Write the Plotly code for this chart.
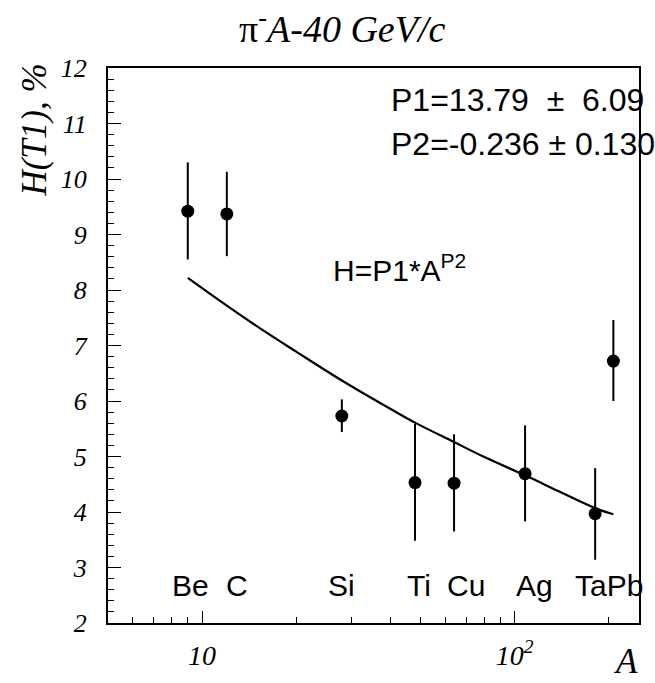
import plotly.graph_objects as go
import numpy as np

# Data
elements = ["Be", "C", "Si", "Ti", "Cu", "Ag", "Ta", "Pb"]
mass_A = [9, 12, 28, 48, 64, 108, 181, 207]
H_vals = [9.42, 9.37, 5.73, 4.53, 4.52, 4.69, 3.97, 6.72]
H_err_up = [0.88, 0.76, 0.30, 1.06, 0.88, 0.87, 0.82, 0.74]
H_err_dn = [0.87, 0.76, 0.29, 1.05, 0.87, 0.86, 0.83, 0.72]

# Fit curve points
fit_A = [9, 12, 16, 20, 28, 40, 48, 64, 80, 108, 140, 181, 207]
fit_H = [8.22, 7.72, 7.24, 6.89, 6.37, 5.86, 5.61, 5.26, 4.99, 4.66, 4.36, 4.07, 3.96]

# Element labels (x in A units)
label_text = ["Be", "C", "Si", "Ti", "Cu", "Ag", "TaPb"]
label_A = [9.2, 12.9, 27.9, 49.6, 69.7, 115.8, 201.0]
label_y = 2.68

title_text = "π<sup>-</sup><i>A-40 GeV/c</i>"
ytitle = "H(T1), %"
fit_lines = ["P1=13.79&nbsp;&nbsp;±&nbsp;&nbsp;6.09", "P2=-0.236&nbsp;±&nbsp;0.130"]
formula = "H=P1*A<sup>P2</sup>"

fig = go.Figure()
fig.add_trace(go.Scatter(x=fit_A, y=fit_H, mode="lines",
                         line=dict(color="black", width=2.2, shape="spline"),
                         showlegend=False, hoverinfo="skip"))
fig.add_trace(go.Scatter(x=mass_A, y=H_vals, mode="markers",
                         marker=dict(color="black", size=13),
                         error_y=dict(type="data", array=H_err_up, arrayminus=H_err_dn,
                                      symmetric=False, color="black", thickness=2, width=0),
                         showlegend=False))

serif = "Liberation Serif"
sans = "Liberation Sans"

for t, a in zip(label_text, label_A):
    fig.add_annotation(x=np.log10(a), y=label_y, text=t, showarrow=False,
                       font=dict(family=sans, size=30, color="black"),
                       xanchor="center", yanchor="middle")

fig.add_annotation(xref="paper", yref="paper", x=0.53, y=0.942, text=fit_lines[0],
                   showarrow=False, xanchor="left", yanchor="middle",
                   font=dict(family=sans, size=32, color="black"))
fig.add_annotation(xref="paper", yref="paper", x=0.53, y=0.863, text=fit_lines[1],
                   showarrow=False, xanchor="left", yanchor="middle",
                   font=dict(family=sans, size=32, color="black"))
fig.add_annotation(xref="paper", yref="paper", x=0.42, y=0.64, text=formula,
                   showarrow=False, xanchor="left", yanchor="middle",
                   font=dict(family=sans, size=30, color="black"))

fig.add_annotation(xref="paper", yref="paper", x=0.44, y=1.0, yshift=42, text=title_text,
                   showarrow=False, xanchor="center", yanchor="middle",
                   font=dict(family=serif, size=38, color="black"))
fig.add_annotation(xref="paper", yref="paper", x=-0.138, y=1.012, text="<i>" + ytitle + "</i>",
                   showarrow=False, xanchor="center", yanchor="top", textangle=-90,
                   font=dict(family=serif, size=35, color="black"))
fig.add_annotation(xref="paper", yref="paper", x=0.976, y=0.0, yshift=-38, text="<i>A</i>",
                   showarrow=False, xanchor="center", yanchor="middle",
                   font=dict(family=serif, size=35, color="black"))

minor_x = [6, 7, 8, 9, 20, 30, 40, 50, 60, 70, 80, 90, 200]

fig.update_xaxes(type="log", range=[np.log10(5), np.log10(250)],
                 showline=True, linecolor="black", linewidth=2, mirror=True,
                 ticks="inside", ticklen=12, tickwidth=1.2, tickcolor="black",
                 tickvals=[10, 100], ticktext=["<i>10</i>", "<i>10<sup>2</sup></i>"],
                 tickfont=dict(family=serif, size=28, color="black"),
                 ticklabelstandoff=6,
                 minor=dict(tickvals=minor_x, ticks="inside", ticklen=6, tickwidth=1.2, tickcolor="black"),
                 showgrid=False, zeroline=False)
fig.update_yaxes(range=[2, 12],
                 showline=True, linecolor="black", linewidth=2, mirror=True,
                 ticks="inside", ticklen=13, tickwidth=1.2, tickcolor="black",
                 tickvals=list(range(2, 13)), ticktext=["<i>%d</i>" % v for v in range(2, 13)],
                 tickfont=dict(family=serif, size=26, color="black"),
                 ticklabelstandoff=14,
                 minor=dict(dtick=0.2, ticks="inside", ticklen=6, tickwidth=1.2, tickcolor="black"),
                 showgrid=False, zeroline=False)

fig.update_layout(width=655, height=683,
                  margin=dict(l=108, r=16, t=68, b=52),
                  plot_bgcolor="white", paper_bgcolor="white",
                  showlegend=False)

fig.write_html("out.html", config={"displayModeBar": False},
               post_script="document.body.style.margin='0px';")
